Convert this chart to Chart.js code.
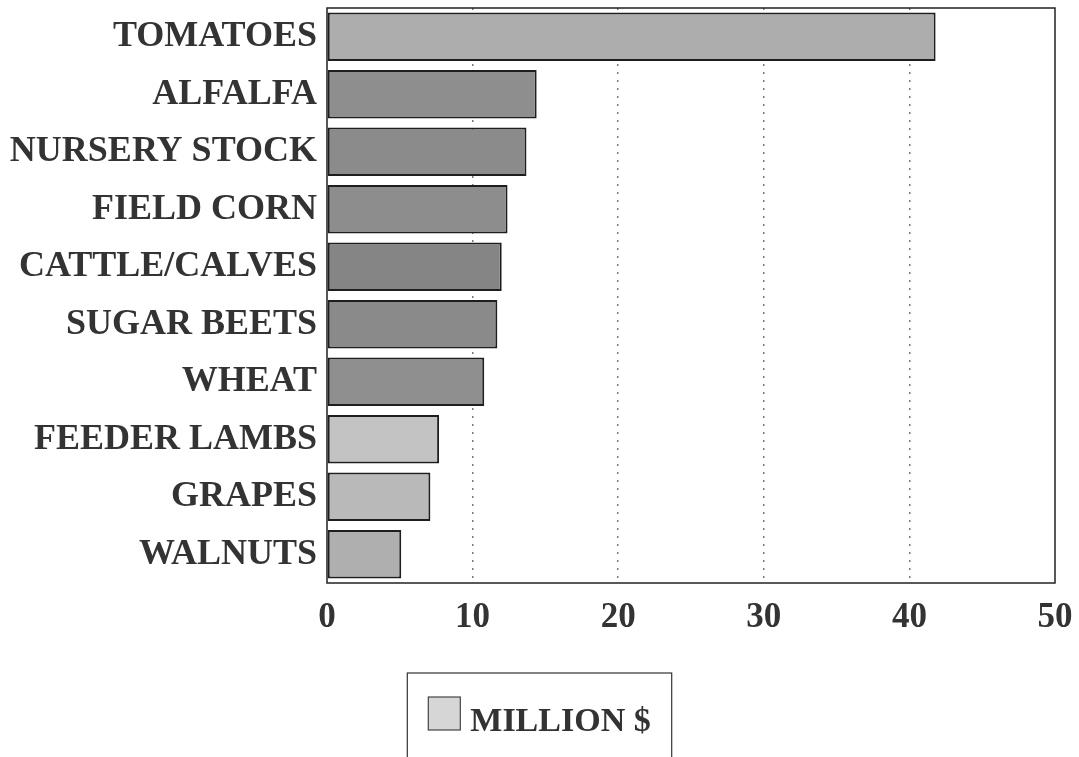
<!DOCTYPE html>
<html>
<head>
<meta charset="utf-8">
<script src="https://cdn.jsdelivr.net/npm/chart.js@4.4.1/dist/chart.umd.min.js"></script>
<style>
  html, body { margin: 0; padding: 0; background: #fff; }
  #wrap { width: 1079px; height: 757px; }
</style>
</head>
<body>
<div id="wrap"><canvas id="crops"></canvas></div>
<script>
// crops and values (million $)
const crops = ["TOMATOES", "ALFALFA", "NURSERY STOCK", "FIELD CORN", "CATTLE/CALVES",
	"SUGAR BEETS", "WHEAT", "FEEDER LAMBS", "GRAPES", "WALNUTS"];
const millions = [41.8, 14.4, 13.7, 12.4, 12.0, 11.7, 10.8, 7.7, 7.1, 5.1];
const xTicks = [0, 10, 20, 30, 40, 50];
const seriesName = "MILLION $";

const barColors = ['#adadad', '#8e8e8e', '#8b8b8b', '#8d8d8d', '#858585',
	'#8a8a8a', '#8f8f8f', '#c3c3c3', '#b9b9b9', '#afafaf'];

const serif = "'Liberation Serif', 'Times New Roman', serif";

// frame round the plot + the boxed legend underneath
const framePlugin = {
	id: 'frame',
	beforeDatasetsDraw(chart) {
		const a = chart.chartArea, ctx = chart.ctx;
		ctx.save();
		ctx.strokeStyle = '#222';
		ctx.lineWidth = 1.5;
		ctx.strokeRect(a.left, a.top, a.right - a.left, a.bottom - a.top);
		ctx.restore();
	},
	afterDraw(chart) {
		const ctx = chart.ctx;
		const ds = chart.data.datasets[0];
		ctx.save();
		ctx.font = "bold 34px " + serif;
		const tw = ctx.measureText(ds.label).width;
		const sw = 32, gap = 10, padX = 21;
		const boxW = padX * 2 + sw + gap + tw;
		const cx = chart.width / 2;
		const left = cx - boxW / 2;
		const top = 673;
		ctx.strokeStyle = '#333';
		ctx.lineWidth = 1.2;
		ctx.strokeRect(left, top, boxW, 120);
		ctx.fillStyle = '#d6d6d6';
		ctx.fillRect(left + padX, 697, sw, 33);
		ctx.strokeStyle = '#444';
		ctx.strokeRect(left + padX, 697, sw, 33);
		ctx.fillStyle = '#333';
		ctx.textBaseline = 'alphabetic';
		ctx.fillText(ds.label, left + padX + sw + gap, 731);
		ctx.restore();
	}
};

document.addEventListener("DOMContentLoaded", function () {
	new Chart(document.getElementById("crops"), {
		type: 'bar',
		data: {
			labels: crops,
			datasets: [{
				label: seriesName,
				data: millions,
				backgroundColor: barColors,
				borderColor: '#1e1e1e',
				borderWidth: 2,
				borderSkipped: false,
				barPercentage: 0.84,
				categoryPercentage: 1.0
			}]
		},
		options: {
			indexAxis: 'y',
			responsive: true,
			maintainAspectRatio: false,
			animation: false,
			layout: {
				padding: { top: 8, right: 24, bottom: 114, left: 0 }
			},
			plugins: {
				legend: { display: false },
				tooltip: { enabled: false }
			},
			scales: {
				x: {
					min: 0,
					max: 50,
					afterBuildTicks: (s) => { s.ticks = xTicks.map((v) => ({ value: v })); },
					afterFit: (s) => { s.height = 60; s.paddingLeft = 0; s.paddingRight = 0; },
					border: { display: false, dash: [2, 6] },
					grid: {
						drawTicks: false,
						color: (c) => (c.tick && (c.tick.value === 0 || c.tick.value === 50)) ? 'rgba(0,0,0,0)' : '#7a7a7a',
						lineWidth: 1.5
					},
					ticks: {
						padding: 14,
						color: '#333',
						font: { family: serif, size: 35, weight: 'bold' }
					}
				},
				y: {
					afterFit: (s) => { s.width = 327; s.paddingTop = 0; s.paddingBottom = 0; },
					border: { display: false },
					grid: { display: false },
					ticks: {
						padding: 2,
						color: '#333',
						font: { family: serif, size: 36, weight: 'bold' }
					}
				}
			}
		},
		plugins: [framePlugin]
	});
});
</script>
</body>
</html>
